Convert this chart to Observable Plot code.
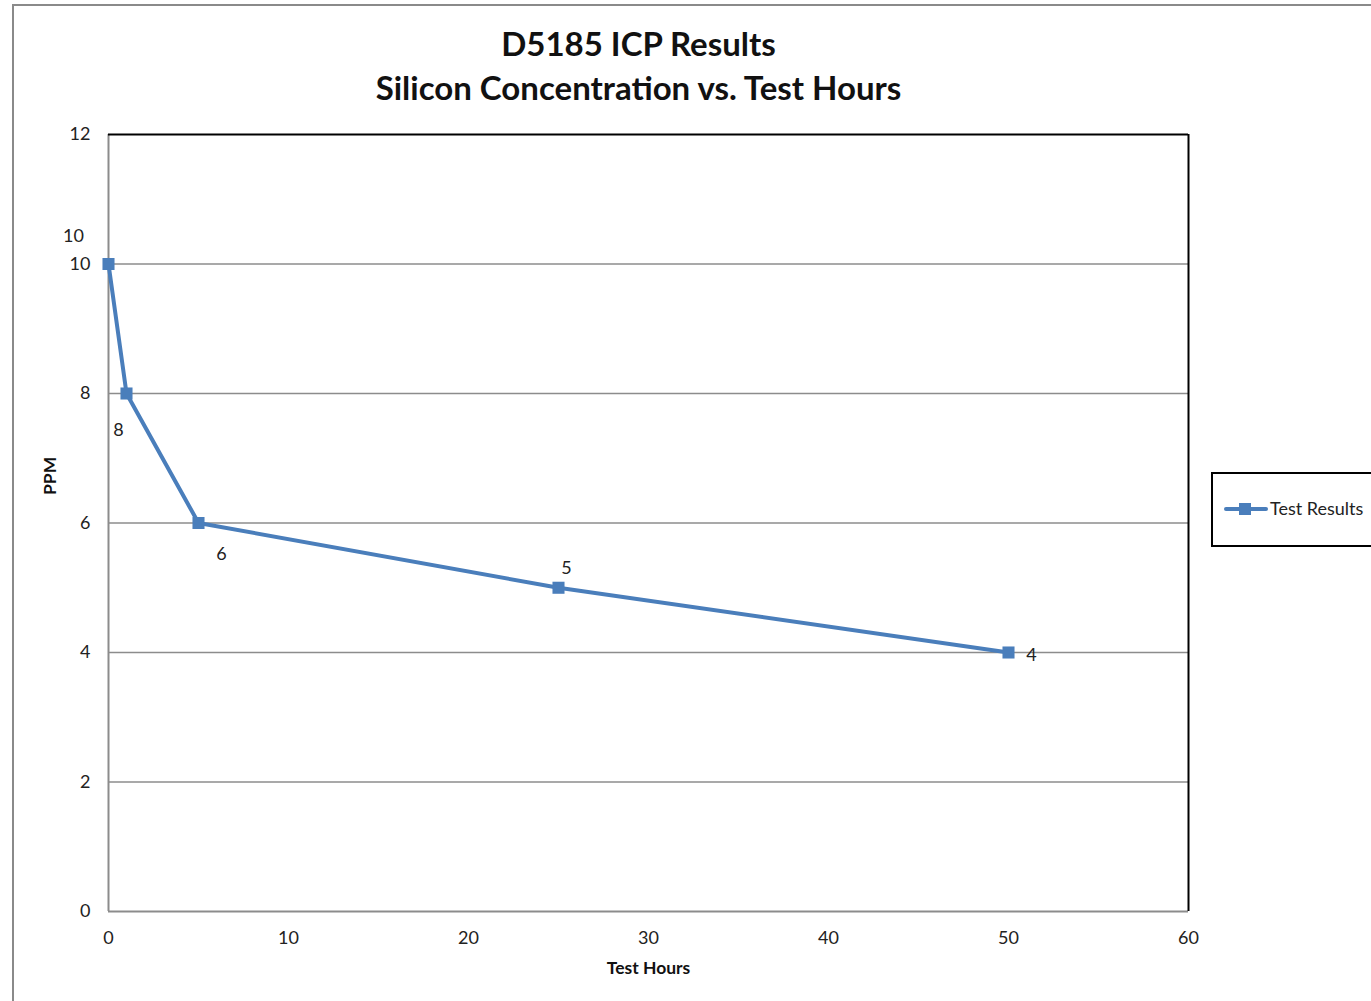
<!DOCTYPE html>
<html>
<head>
<meta charset="utf-8">
<script src="https://cdn.jsdelivr.net/npm/d3@7"></script>
<script src="https://cdn.jsdelivr.net/npm/@observablehq/plot@0.6"></script>
<style>
  html, body { margin: 0; padding: 0; background: #fff; }
  #chart { position: relative; width: 1371px; height: 1001px; overflow: hidden; }
</style>
</head>
<body>
<div id="chart"></div>
<script>
// ---- data ----
const hours = [0, 1, 5, 25, 50];
const ppm = [10, 8, 6, 5, 4];
const xTicks = [0, 10, 20, 30, 40, 50, 60];
const yTicks = [0, 2, 4, 6, 8, 10, 12];
const titleLines = ["D5185 ICP Results", "Silicon Concentration vs. Test Hours"];
const xLabel = "Test Hours";
const yLabel = "PPM";
const seriesName = "Test Results";

const data = hours.map((h, i) => ({hours: h, ppm: ppm[i]}));
// label placement per point (dx, dy in px)
const labelOffsets = [[-35, -28], [-8, 37], [23, 31], [8, -20], [23, 3]];
const labelled = data.map((d, i) => ({...d, dx: labelOffsets[i][0], dy: labelOffsets[i][1]}));

const font = "Lato, 'Open Sans', sans-serif";
const blue = "#4a7ebb";
const grid = "#8c8c8c";

const W = 1371, H = 1001;
const plot = Plot.plot({
  width: W, height: H,
  marginLeft: 108, marginRight: 183, marginTop: 134, marginBottom: 90,
  style: {fontFamily: font, fontSize: "18px", color: "#222", background: "#fff"},
  x: {domain: [0, 60], ticks: xTicks, tickSize: 0, tickPadding: 20, label: null},
  y: {domain: [0, 12], ticks: yTicks, tickSize: 0, tickPadding: 18, label: null},
  marks: [
    Plot.ruleY(yTicks.filter(t => t > 0 && t < 12), {stroke: grid, strokeWidth: 1.5, strokeOpacity: 1}),
    Plot.ruleX([0], {stroke: grid, strokeWidth: 2}),
    Plot.ruleY([0], {stroke: grid, strokeWidth: 2}),
    Plot.ruleY([12], {stroke: "#000", strokeWidth: 2}),
    Plot.ruleX([60], {stroke: "#000", strokeWidth: 2}),
    Plot.line(data, {x: "hours", y: "ppm", stroke: blue, strokeWidth: 4}),
    Plot.dot(data, {x: "hours", y: "ppm", symbol: "square", r: 6.8, fill: blue, stroke: "none"}),
    ...labelled.map(d => Plot.text([d], {x: "hours", y: "ppm", text: d => String(d.ppm), dx: d.dx, dy: d.dy, fontSize: 18, fill: "#222"})),
    Plot.text([titleLines.join("\n")], {frameAnchor: "top", dx: -10, dy: -110.5, lineHeight: 1.35, fontSize: 33, fontWeight: "bold", fill: "#111", textAnchor: "middle"}),
    Plot.text([yLabel], {frameAnchor: "left", dx: -58, dy: -28, rotate: -90, fontSize: 17.5, fontWeight: "bold", fill: "#111"}),
    Plot.text([xLabel], {frameAnchor: "bottom", dy: 62, fontSize: 17.5, fontWeight: "bold", fill: "#111"})
  ]
});

document.getElementById("chart").appendChild(plot);

// outer chart border and legend
const svg = d3.select(plot);
svg.append("path")
  .attr("d", `M13,${H + 5} V5 H${W + 5}`)
  .attr("fill", "none").attr("stroke", "#8a8a8a").attr("stroke-width", 2);

const lg = svg.append("g");
lg.append("rect").attr("x", 1212).attr("y", 473).attr("width", 170).attr("height", 73)
  .attr("fill", "#fff").attr("stroke", "#000").attr("stroke-width", 2);
lg.append("line").attr("x1", 1226).attr("x2", 1266).attr("y1", 509).attr("y2", 509)
  .attr("stroke", blue).attr("stroke-width", 4).attr("stroke-linecap", "round");
lg.append("rect").attr("x", 1239).attr("y", 503).attr("width", 12).attr("height", 12).attr("fill", blue);
lg.append("text").attr("x", 1270).attr("y", 509).attr("dy", "0.35em")
  .attr("text-anchor", "start")
  .attr("font-family", font).attr("font-size", 18).attr("fill", "#222").text(seriesName);
</script>
</body>
</html>
